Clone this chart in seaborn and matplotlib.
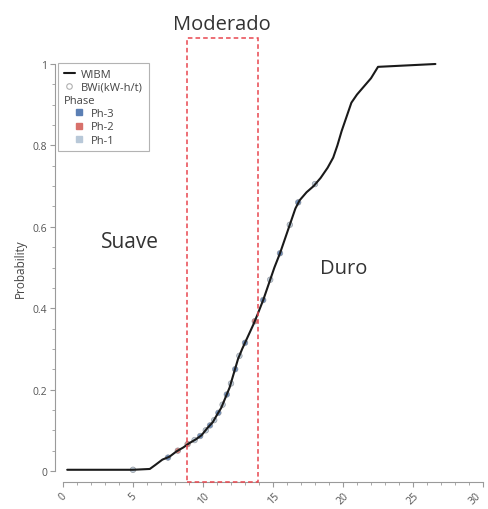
import matplotlib
matplotlib.use("Agg")
import matplotlib.pyplot as plt
from matplotlib.lines import Line2D
from matplotlib.patches import Rectangle
from matplotlib.ticker import MultipleLocator
import seaborn as sns
import pandas as pd

# ---- data ----
wibm_x = [0.3, 5.0, 6.2, 6.6, 7.1, 7.6, 8.1, 8.6, 9.0, 9.5, 9.9, 10.3, 10.7, 11.0,
          11.3, 11.6, 11.9, 12.2, 12.5, 12.8, 13.2, 13.6, 13.9, 14.3, 14.7, 15.1,
          15.5, 15.9, 16.3, 16.6, 16.9, 17.4, 17.9, 18.4, 18.9, 19.3, 19.6, 19.9,
          20.3, 20.6, 21.0, 21.5, 22.0, 22.5, 26.6]
wibm_p = [0.003, 0.003, 0.005, 0.015, 0.028, 0.035, 0.048, 0.058, 0.068, 0.078,
          0.088, 0.105, 0.12, 0.138, 0.155, 0.18, 0.205, 0.24, 0.275, 0.30, 0.33,
          0.36, 0.385, 0.42, 0.46, 0.50, 0.535, 0.575, 0.615, 0.645, 0.665, 0.685,
          0.70, 0.72, 0.745, 0.77, 0.80, 0.835, 0.875, 0.905, 0.925, 0.945, 0.965,
          0.993, 1.0]

bwi_x = [5.0, 7.5, 8.2, 8.9, 9.4, 9.8, 10.2, 10.5, 10.8, 11.1, 11.4, 11.7, 12.0,
         12.3, 12.6, 13.0, 13.7, 14.3, 14.8, 15.5, 16.2, 16.8, 18.0]
bwi_p = [0.003, 0.033, 0.05, 0.066, 0.076, 0.086, 0.10, 0.112, 0.125, 0.143, 0.163,
         0.188, 0.215, 0.25, 0.283, 0.315, 0.368, 0.42, 0.47, 0.535, 0.605, 0.66, 0.705]
bwi_phase = ["Ph-1", "Ph-3", "Ph-2", "Ph-2", "Ph-1", "Ph-3", "Ph-1", "Ph-3", "Ph-1",
             "Ph-3", "Ph-1", "Ph-3", "Ph-1", "Ph-3", "Ph-1", "Ph-3", "Ph-2", "Ph-3",
             "Ph-1", "Ph-3", "Ph-1", "Ph-3", "Ph-1"]

phases = ["Ph-3", "Ph-2", "Ph-1"]
phase_colors = ["#5b7fb4", "#d8716b", "#b8c8d8"]

x_ticks = [0, 5, 10, 15, 20, 25, 30]
y_ticks = [0, 0.2, 0.4, 0.6, 0.8, 1.0]
y_ticklabels = ["0", "0.2", "0.4", "0.6", "0.8", "1"]

zone_moderado = (8.86, 13.9)

# ---- figure ----
sns.set_style("ticks")
plt.rcParams["font.family"] = ["Open Sans", "DejaVu Sans"]

W, H = 489, 510
fig = plt.figure(figsize=(W / 100, H / 100), dpi=100)
ax = fig.add_axes([63 / W, (H - 472) / H, 420 / W, 407 / H])

line_df = pd.DataFrame({"x": wibm_x, "p": wibm_p})
pts_df = pd.DataFrame({"x": bwi_x, "p": bwi_p, "phase": bwi_phase})

sns.scatterplot(data=pts_df, x="x", y="p", hue="phase", hue_order=phases,
                palette=phase_colors, s=16, edgecolor="#8a8f96", linewidth=0.5,
                alpha=0.85, legend=False, ax=ax, zorder=2, clip_on=False)
sns.lineplot(data=line_df, x="x", y="p", color="#1a1a1a", linewidth=1.5,
             ax=ax, zorder=3, sort=False, estimator=None, clip_on=False)

ax.set_xlim(0, 30)
ax.set_ylim(0, 1)

# dashed zone
rect = Rectangle((zone_moderado[0], -0.027), zone_moderado[1] - zone_moderado[0],
                 1.064 + 0.027, fill=False, edgecolor="#e8474f", linestyle=(0, (3, 2)),
                 linewidth=1.1, clip_on=False, zorder=4)
ax.add_patch(rect)

ax.text(11.36, 1.098, "Moderado", ha="center", va="center", fontsize=14.5,
        color="#333333", clip_on=False)
ax.text(4.79, 0.565, "Suave", ha="center", va="center", fontsize=15, color="#333333")
ax.text(20.07, 0.50, "Duro", ha="center", va="center", fontsize=14.5, color="#333333")

# axes styling
spine_col = "#9a9a9a"
for s in ["top", "right"]:
    ax.spines[s].set_visible(False)
ax.spines["left"].set_position(("outward", 5.4))
ax.spines["bottom"].set_position(("outward", 7.6))
ax.spines["left"].set_bounds(0, 1)
ax.spines["bottom"].set_bounds(0, 30)
for s in ["left", "bottom"]:
    ax.spines[s].set_color(spine_col)
    ax.spines[s].set_linewidth(0.8)

ax.set_xticks(x_ticks)
xtl = ax.set_xticklabels([str(v) for v in x_ticks], rotation=45, ha="center")
xtl[-1].set_ha("right")
ax.set_yticks(y_ticks)
ax.set_yticklabels(y_ticklabels)
ax.xaxis.set_minor_locator(MultipleLocator(1))
ax.yaxis.set_minor_locator(MultipleLocator(0.05))
ax.tick_params(axis="both", which="major", length=3.5, width=0.8, color=spine_col,
               labelsize=7.5, labelcolor="#555555", pad=2.5)
ax.tick_params(axis="both", which="minor", length=2, width=0.6, color=spine_col)

ax.set_xlabel("")
ax.set_ylabel("Probability", fontsize=8.5, color="#444444", labelpad=4)

# legend
handles = [
    Line2D([], [], color="#1a1a1a", linewidth=1.5),
    Line2D([], [], linestyle="none", marker="o", markersize=4, markerfacecolor="none",
           markeredgecolor="#b0b0b0", markeredgewidth=0.8),
    Line2D([], [], linestyle="none"),
] + [Line2D([], [], linestyle="none", marker="s", markersize=4.5, markerfacecolor=c,
            markeredgecolor=c) for c in phase_colors]
labels = ["WIBM", "BWi(kW-h/t)", "Phase"] + phases

leg = ax.legend(handles, labels, loc="upper left",
                bbox_to_anchor=(58 / W, 1 - 64 / H), bbox_transform=fig.transFigure,
                fontsize=8, frameon=True, fancybox=False, edgecolor="#a0a0a0",
                handlelength=1.0, handletextpad=0.6, labelspacing=0.2,
                borderpad=0.5, borderaxespad=0, numpoints=1)
leg.get_frame().set_linewidth(0.8)
for t in leg.get_texts():
    t.set_color("#444444")

# indent Phase entries (Origin-like layout)
try:
    entries = [e for col in leg._legend_handle_box.get_children()
               for e in col.get_children()]
    shift = 7.0
    for i, e in enumerate(entries):
        da, ta = e.get_children()
        if i == 2:
            da.width = 0
            e.sep = 0
        elif i >= 3:
            da.width = da.width + shift
            for art in da.get_children():
                if isinstance(art, Line2D):
                    art.set_xdata([v + shift for v in art.get_xdata()])
except Exception:
    pass

fig.savefig("out.png", dpi=100)
